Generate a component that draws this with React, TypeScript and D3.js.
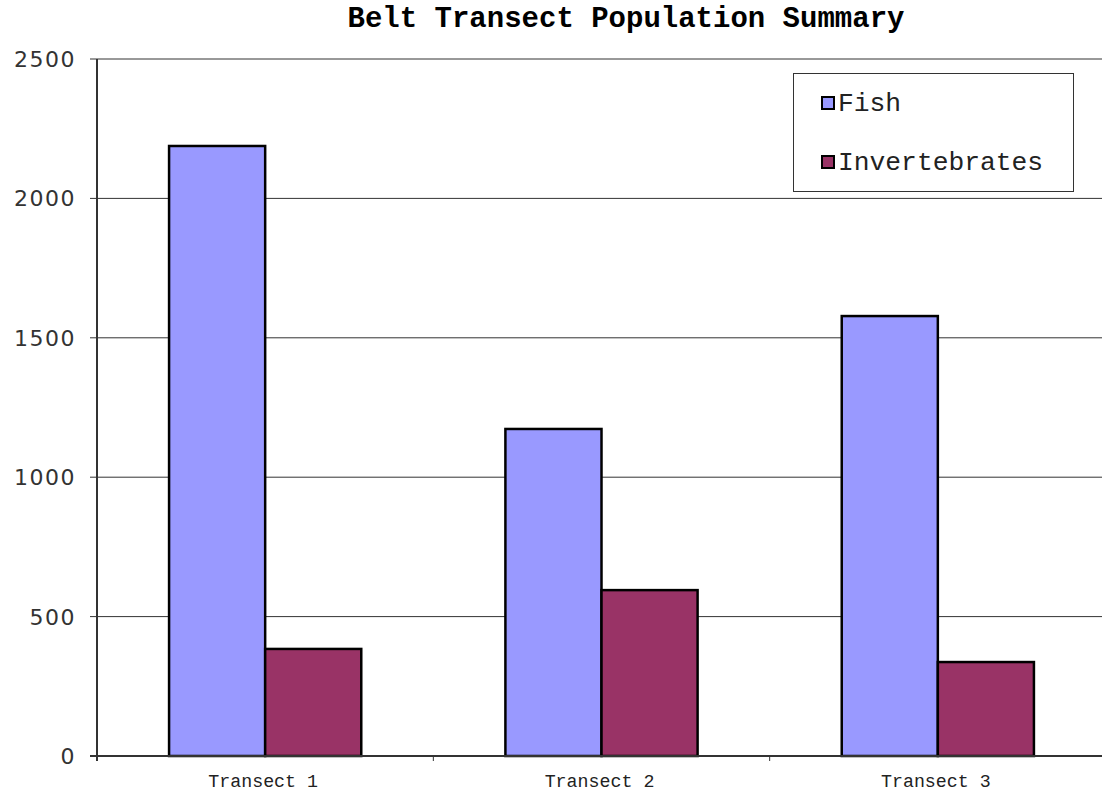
import React, { useEffect } from 'react';
import * as d3 from 'd3';

const categories = ['Transect 1', 'Transect 2', 'Transect 3'];
const seriesNames = ['Fish', 'Invertebrates'];
const fishValues = [2188, 1173, 1578];
const invertValues = [384, 595, 337];
const yTicks = [0, 500, 1000, 1500, 2000, 2500];
const colors = ['#9999ff', '#993366'];

const W = 1102;
const H = 796;
const margin = { top: 59, right: -4, bottom: 40, left: 97 };
const mono = "'Courier New', Courier, 'Liberation Mono', monospace";

export default function App() {
  useEffect(() => {
    document.body.style.margin = '0';
  }, []);

  const x = d3.scaleBand<string>()
    .domain(categories)
    .range([margin.left, W - margin.right]);
  const y = d3.scaleLinear()
    .domain([0, 2500])
    .range([H - margin.bottom, margin.top]);
  // two bars per category, centred in the band
  const inner = d3.scaleBand<string>()
    .domain(seriesNames)
    .range([0, x.bandwidth()])
    .paddingOuter(0.75)
    .paddingInner(0);

  const series = [fishValues, invertValues];
  const x0 = margin.left;
  const x1 = W - margin.right;
  const yBase = y(0);

  return (
    <svg width={W} height={H} style={{ display: 'block', background: '#fff' }}>
      <text x={626} y={27} textAnchor="middle" fontFamily={mono}
        fontWeight="bold" fontSize={29}>Belt Transect Population Summary</text>

      {/* gridlines + y ticks */}
      {yTicks.map(t => (
        <g key={t}>
          <line x1={90} x2={x1} y1={y(t)} y2={y(t)} stroke="#333" strokeWidth={1} />
          <text x={76} y={y(t) + 8} textAnchor="end" fontFamily="'DejaVu Sans', sans-serif"
            fontSize={22} letterSpacing={1.5} fill="#333">{t}</text>
        </g>
      ))}

      {/* bars */}
      {categories.map((c, i) => (
        <g key={c}>
          {seriesNames.map((s, j) => (
            <rect key={s}
              x={(x(c) ?? 0) + (inner(s) ?? 0)}
              y={y(series[j][i])}
              width={inner.bandwidth()}
              height={yBase - y(series[j][i])}
              fill={colors[j]} stroke="#000" strokeWidth={2.5} />
          ))}
          <text x={(x(c) ?? 0) + x.bandwidth() / 2 - 2} y={787} textAnchor="middle"
            fontFamily={mono} fontSize={18.3} fill="#222">{c}</text>
        </g>
      ))}

      {/* axes */}
      <line x1={x0} x2={x0} y1={margin.top} y2={yBase + 5} stroke="#333" strokeWidth={2} />
      <line x1={90} x2={x1} y1={yBase} y2={yBase} stroke="#333" strokeWidth={2} />
      {categories.map((c, i) => i > 0 && (
        <line key={c} x1={x(c)} x2={x(c)} y1={yBase} y2={yBase + 5} stroke="#333" strokeWidth={1} />
      ))}

      {/* legend */}
      <rect x={793.5} y={73.5} width={280} height={118} fill="#fff" stroke="#333" strokeWidth={1} />
      {seriesNames.map((s, j) => (
        <g key={s}>
          <rect x={822} y={97 + j * 59} width={12} height={12} fill={colors[j]} stroke="#000" strokeWidth={2} />
          <text x={838} y={111 + j * 59} fontFamily={mono}
            fontSize={26.3} fill="#222">{s}</text>
        </g>
      ))}
    </svg>
  );
}
